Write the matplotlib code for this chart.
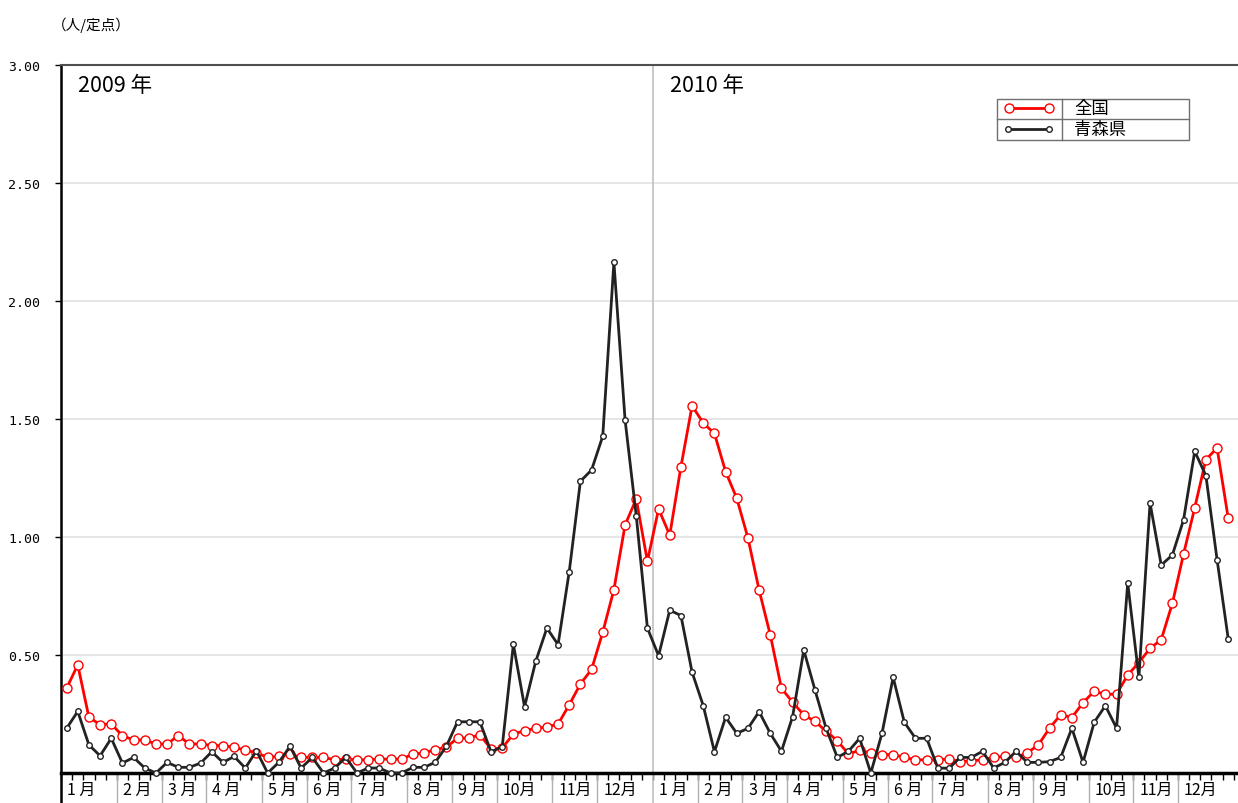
import numpy as np
import matplotlib.pyplot as plt
from matplotlib.lines import Line2D
from matplotlib.patches import Rectangle
import matplotlib.transforms as mtransforms

plt.rcParams['font.family'] = ['Noto Sans CJK JP', 'DejaVu Sans']

# 定点当たり報告数（週別）
zenkoku_2009 = [0.359, 0.458, 0.236, 0.205, 0.208, 0.158, 0.14, 0.14, 0.123, 0.123,
                0.158, 0.123, 0.123, 0.116, 0.116, 0.109, 0.097, 0.085, 0.066, 0.07,
                0.08, 0.066, 0.066, 0.066, 0.056, 0.059, 0.056, 0.056, 0.059, 0.059,
                0.059, 0.08, 0.085, 0.099, 0.109, 0.148, 0.148, 0.162, 0.102, 0.106,
                0.165, 0.179, 0.189, 0.195, 0.207, 0.289, 0.377, 0.439, 0.596, 0.777,
                1.051, 1.161, 0.897]
zenkoku_2010 = [1.119, 1.008, 1.298, 1.556, 1.483, 1.439, 1.277, 1.164, 0.996, 0.775,
                0.585, 0.359, 0.3, 0.246, 0.219, 0.177, 0.137, 0.08, 0.097, 0.085,
                0.078, 0.078, 0.066, 0.056, 0.056, 0.056, 0.059, 0.048, 0.052, 0.056,
                0.066, 0.07, 0.066, 0.085, 0.119, 0.19, 0.247, 0.235, 0.298, 0.346,
                0.334, 0.334, 0.415, 0.468, 0.528, 0.565, 0.719, 0.928, 1.124, 1.328,
                1.377, 1.079]
aomori_2009 = [0.189, 0.261, 0.119, 0.073, 0.147, 0.042, 0.066, 0.021, 0.0, 0.045,
               0.024, 0.024, 0.042, 0.09, 0.045, 0.07, 0.021, 0.094, 0.0, 0.045,
               0.113, 0.021, 0.066, 0.0, 0.021, 0.066, 0.0, 0.021, 0.021, 0.0,
               0.0, 0.024, 0.024, 0.045, 0.113, 0.217, 0.217, 0.217, 0.09, 0.111,
               0.545, 0.281, 0.473, 0.614, 0.544, 0.853, 1.236, 1.284, 1.427, 2.164,
               1.496, 1.09, 0.614]
aomori_2010 = [0.497, 0.69, 0.667, 0.427, 0.285, 0.09, 0.236, 0.168, 0.189, 0.26,
               0.168, 0.092, 0.239, 0.521, 0.352, 0.189, 0.066, 0.092, 0.147, 0.0,
               0.168, 0.405, 0.215, 0.147, 0.147, 0.021, 0.02, 0.066, 0.066, 0.092,
               0.021, 0.045, 0.092, 0.045, 0.045, 0.048, 0.066, 0.19, 0.045, 0.215,
               0.285, 0.19, 0.805, 0.405, 1.144, 0.881, 0.924, 1.073, 1.363, 1.26,
               0.904, 0.568]

weeks_per_month_2009 = [5, 4, 4, 5, 4, 4, 5, 4, 4, 5, 4, 5]
weeks_per_month_2010 = [4, 4, 4, 5, 4, 4, 5, 4, 5, 4, 4, 5]
month_labels = ['1 月', '2 月', '3 月', '4 月', '5 月', '6 月',
                '7 月', '8 月', '9 月', '10月', '11月', '12月']
year_labels = ['2009 年', '2010 年']
y_ticks = [0.5, 1.0, 1.5, 2.0, 2.5, 3.0]

W, H = 1238, 804
wk = 592 / 53  # pixels per week


def px(x, y):
    return x / W, 1 - y / H


zenkoku = zenkoku_2009 + zenkoku_2010
aomori = aomori_2009 + aomori_2010
xs = np.arange(len(zenkoku)) + 0.5

fig = plt.figure(figsize=(W / 100, H / 100), dpi=100)
ax = fig.add_axes([61 / W, 30 / H, (W - 61) / W, 708 / H])
ax.set_xlim(0, (W - 61) / wk)
ax.set_ylim(0, 3)

# grid
for v in y_ticks[:-1]:
    ax.axhline(v, color='#e2e2e2', lw=1.2, zorder=0)

ax.spines['right'].set_visible(False)
ax.spines['top'].set_color('#505050')
ax.spines['top'].set_linewidth(1.5)
ax.spines['left'].set_linewidth(1.8)
ax.spines['bottom'].set_linewidth(2.5)

ax.set_yticks(y_ticks)
ax.set_yticklabels(['%.2f' % v for v in y_ticks], family='DejaVu Sans Mono', fontsize=9.5)
ax.tick_params(axis='y', length=4, width=1, pad=11)

n_weeks = len(zenkoku)
ax.set_xticks(np.arange(0, n_weeks + 1))
ax.set_xticklabels([])
ax.tick_params(axis='x', length=5, width=1, direction='out')

# month separators and labels
trans = mtransforms.blended_transform_factory(ax.transData, ax.transAxes)
bottom = -30 / 708
starts = []
pos = 0
for n in weeks_per_month_2009 + weeks_per_month_2010:
    starts.append(pos)
    pos += n
for i, s in enumerate(starts):
    if s not in (0, 53):
        ax.plot([s, s], [bottom, 0], color='#b0b0b0', lw=1, transform=trans, clip_on=False)
    ax.text(s + 0.55, -16 / 708, month_labels[i % 12], transform=trans, ha='left',
            va='center', fontsize=11.5)
ax.plot([0, 0], [bottom, 0], color='black', lw=1.8, transform=trans, clip_on=False)
ax.plot([53, 53], [bottom, 1], color='#c0c0c0', lw=1.2, transform=trans, clip_on=False)

ax.text((78 - 61) / wk, (774 - 86) / 708, year_labels[0], transform=trans,
        ha='left', va='center', fontsize=15.5)
ax.text((670 - 61) / wk, (774 - 86) / 708, year_labels[1], transform=trans,
        ha='left', va='center', fontsize=15.5)

# series
ax.plot(xs, zenkoku, color='#ff0000', lw=2.0, marker='o', ms=6.5, mfc='white',
        mec='#ff0000', mew=1.0, zorder=3, clip_on=False)
ax.plot(xs, aomori, color='#222222', lw=2.0, marker='o', ms=4, mfc='white',
        mec='#222222', mew=1.0, zorder=4, clip_on=False)

fig.text(*px(52, 25), '（人/定点）', ha='left', va='center', fontsize=10.5)

# legend box
fig.add_artist(Rectangle(px(997, 141), 192 / W, 41 / H, transform=fig.transFigure,
                         fill=False, edgecolor='#707070', lw=1))
fig.add_artist(Line2D([px(997, 120)[0], px(1189, 120)[0]], [px(0, 120)[1]] * 2,
                      transform=fig.transFigure, color='#707070', lw=1))
fig.add_artist(Line2D([px(1062, 0)[0]] * 2, [px(0, 100)[1], px(0, 141)[1]],
                      transform=fig.transFigure, color='#707070', lw=1))
fig.add_artist(Line2D([px(1009, 0)[0], px(1049, 0)[0]], [px(0, 109)[1]] * 2,
                      transform=fig.transFigure, color='#ff0000', lw=2.0, marker='o',
                      ms=6.5, mfc='white', mec='#ff0000'))
fig.add_artist(Line2D([px(1008, 0)[0], px(1049, 0)[0]], [px(0, 130)[1]] * 2,
                      transform=fig.transFigure, color='#222222', lw=2.0, marker='o',
                      ms=4, mfc='white', mec='#222222'))
fig.text(*px(1074, 109), '全国', ha='left', va='center', fontsize=12.5)
fig.text(*px(1074, 130), '青森県', ha='left', va='center', fontsize=12.5)

fig.savefig('out.png', dpi=100)
